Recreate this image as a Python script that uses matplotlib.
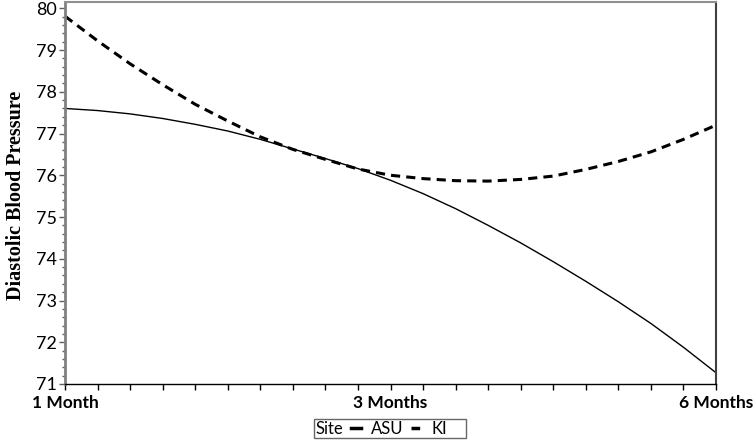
import matplotlib
matplotlib.use("Agg")
import matplotlib.pyplot as plt
from matplotlib.lines import Line2D
from matplotlib.ticker import MultipleLocator

# Visit positions (1 Month = 0, 3 Months = 1, 6 Months = 2), read every 0.1
visit = [0.0, 0.1, 0.2, 0.3, 0.4, 0.5, 0.6, 0.7, 0.8, 0.9, 1.0,
         1.1, 1.2, 1.3, 1.4, 1.5, 1.6, 1.7, 1.8, 1.9, 2.0]
tick_labels = ["1 Month", "3 Months", "6 Months"]

# Predicted diastolic blood pressure by site
asu = [77.60, 77.55, 77.47, 77.36, 77.22, 77.06, 76.86, 76.63, 76.40, 76.16, 75.88,
       75.56, 75.20, 74.80, 74.38, 73.93, 73.46, 72.97, 72.45, 71.88, 71.27]
ki = [79.81, 79.22, 78.67, 78.17, 77.70, 77.30, 76.92, 76.62, 76.38, 76.15, 76.00,
      75.92, 75.87, 75.86, 75.90, 75.98, 76.14, 76.33, 76.56, 76.86, 77.20]

fig = plt.figure(figsize=(7.56, 4.4), dpi=100)
ax = fig.add_axes([65 / 756, 1 - 384 / 440, (716 - 65) / 756, 382 / 440])

# Draw the two site curves
ax.plot(visit, asu, color="black", linewidth=1.0)
ax.plot(visit, ki, color="black", linewidth=2.2, linestyle=(0, (3, 2)))

ax.set_xlim(0, 2)
ax.set_ylim(71, 80.15)

# Ticks
tick_font = "Lato"
ax.set_xticks([0, 1, 2])
ax.set_xticklabels(tick_labels, fontsize=12.5, fontweight="bold", family=tick_font)
ax.xaxis.set_minor_locator(MultipleLocator(0.1))
ax.tick_params(axis="x", which="both", direction="out", length=4, width=1,
               pad=4, colors="black")
ax.set_yticks(range(71, 81))
ax.set_yticklabels([str(v) for v in range(71, 81)], fontsize=13, family=tick_font)
ax.yaxis.set_minor_locator(MultipleLocator(0.2))
ax.tick_params(axis="y", which="major", direction="out", length=4, width=1,
               color="#606060", pad=2)
ax.tick_params(axis="y", which="minor", direction="out", length=2, width=1,
               color="#606060")

# Spines
ax.spines["left"].set_color("#808080")
ax.spines["left"].set_linewidth(2)
ax.spines["top"].set_color("#909090")
ax.spines["top"].set_linewidth(1.5)
ax.spines["right"].set_color("#404040")
ax.spines["right"].set_linewidth(1.5)
ax.spines["bottom"].set_color("black")
ax.spines["bottom"].set_linewidth(1)

fig.text(16 / 756, 1 - 195 / 440, "Diastolic Blood Pressure", rotation=90,
         ha="center", va="center", fontsize=14.5, fontweight="bold",
         family="Liberation Serif")

# Legend: label before handle, the trailing entry has an empty handle
handles = [Line2D([], [], color="black", linewidth=2.5),
           Line2D([], [], color="black", linewidth=2.5, linestyle=(0, (2.5, 1.5))),
           Line2D([], [], color="none")]
labels = ["Site", "ASU", "KI"]
leg = fig.legend(handles, labels, ncol=3, loc="upper center",
                 bbox_to_anchor=(390 / 756, 1 - 419 / 440), markerfirst=False,
                 handlelength=0.6, handletextpad=0.45, columnspacing=0.6,
                 frameon=True, fancybox=False, borderpad=0.1, borderaxespad=0,
                 prop={"family": tick_font, "size": 12})
leg.get_frame().set_edgecolor("#404040")
leg.get_frame().set_linewidth(1)

fig.savefig("out.png", dpi=100)
